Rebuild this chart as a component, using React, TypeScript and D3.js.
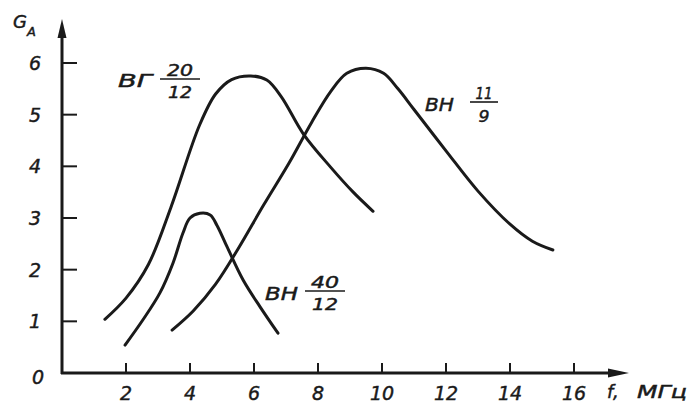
import React from "react";
import * as d3 from "d3";

const xTicks = [2, 4, 6, 8, 10, 12, 14, 16];
const yTicks = [1, 2, 3, 4, 5, 6];

// ВГ 20/12
const vg20F = [1.34, 2.0, 2.7, 3.4, 4.3, 4.8, 5.3, 5.9, 6.4, 6.85, 7.55, 8.4, 9.1, 9.72];
const vg20G = [1.04, 1.45, 2.1, 3.2, 4.8, 5.4, 5.68, 5.75, 5.67, 5.35, 4.62, 3.98, 3.5, 3.13];

// ВН 40/12
const vn40F = [1.97, 2.53, 3.06, 3.47, 3.78, 4.0, 4.31, 4.63, 4.84, 5.16, 5.66, 6.19, 6.75];
const vn40G = [0.54, 1.03, 1.55, 2.13, 2.71, 3.0, 3.09, 3.06, 2.86, 2.44, 1.8, 1.28, 0.77];

// ВН 11/9
const vn11F = [3.44, 4.1, 4.8, 5.5, 6.3, 7.1, 7.8, 8.4, 8.9, 9.5, 10.05, 10.5, 11.0, 12.0, 13.0, 14.0, 14.7, 15.34];
const vn11G = [0.83, 1.2, 1.72, 2.4, 3.25, 4.07, 4.85, 5.45, 5.8, 5.9, 5.8, 5.5, 5.1, 4.3, 3.52, 2.88, 2.55, 2.38];

const seriesList = [
  { name: "vg20", f: vg20F, g: vg20G },
  { name: "vn40", f: vn40F, g: vn40G },
  { name: "vn11", f: vn11F, g: vn11G },
];

const W = 688;
const H = 408;
const FONT = "'DejaVu Sans', 'Liberation Sans', sans-serif";
const INK = "#1a1a1a";

export default function App() {
  const x = d3.scaleLinear().domain([0, 16]).range([62, 574]);
  const y = d3.scaleLinear().domain([0, 6]).range([373, 63]);
  const line = d3
    .line<[number, number]>()
    .x((d) => x(d[0]))
    .y((d) => y(d[1]))
    .curve(d3.curveCatmullRom.alpha(0.5));

  const x0 = x(0);
  const y0 = y(0);
  const txt = {
    fontFamily: FONT,
    fontStyle: "italic" as const,
    fill: INK,
    stroke: INK,
    strokeWidth: 0.45,
  };

  const frac = (x1: number, x2: number, lineY: number, num: string, numW: number, den: string, denW: number, fs = 15) => {
    const cx = (x1 + x2) / 2;
    return (
      <g>
        <text x={cx - numW / 2} y={lineY - 3} fontSize={fs} textLength={numW} lengthAdjust="spacingAndGlyphs" {...txt}>{num}</text>
        <line x1={x1} x2={x2} y1={lineY} y2={lineY} stroke={INK} strokeWidth={1.6} />
        <text x={cx - denW / 2} y={lineY + 4 + fs} fontSize={fs} textLength={denW} lengthAdjust="spacingAndGlyphs" {...txt}>{den}</text>
      </g>
    );
  };

  return (
    <svg width={W} height={H} style={{ position: "absolute", left: 0, top: 0, background: "#fff" }}>
      <rect width={W} height={H} fill="#fff" />
      {/* axes */}
      <line x1={x0} x2={x0} y1={y0 + 1} y2={30} stroke={INK} strokeWidth={3} />
      <path d={`M${x0},19 L${x0 - 4.5},38 L${x0 + 4.5},38 Z`} fill={INK} />
      <line x1={x0 - 1} x2={612} y1={y0} y2={y0} stroke={INK} strokeWidth={3} />
      <path d={`M629,${y0} L608,${y0 - 4.5} L608,${y0 + 4.5} Z`} fill={INK} />
      {yTicks.map((t) => (
        <g key={"y" + t}>
          <line x1={x0} x2={x0 + 15} y1={y(t)} y2={y(t)} stroke={INK} strokeWidth={2} />
          <text x={35} y={y(t) + 7} textAnchor="middle" fontSize={19} {...txt}>{t}</text>
        </g>
      ))}
      <text x={38} y={y0 + 11} textAnchor="middle" fontSize={19} {...txt}>0</text>
      {xTicks.map((t) => (
        <g key={"x" + t}>
          <line x1={x(t)} x2={x(t)} y1={y0} y2={y0 - 10} stroke={INK} strokeWidth={2} />
          <text x={x(t)} y={400} textAnchor="middle" fontSize={19} {...txt}>{t}</text>
        </g>
      ))}
      {/* axis titles */}
      <text x={13} y={28} fontSize={18} {...txt}>G</text>
      <text x={27} y={36} fontSize={13} {...txt}>A</text>
      <text x={607} y={398} fontSize={18} {...txt}>f,</text>
      <text x={637} y={398} fontSize={17} textLength={50} lengthAdjust="spacingAndGlyphs" {...txt}>МГц</text>

      {/* curves */}
      {seriesList.map((s) => (
        <path
          key={s.name}
          d={line(s.f.map((f, i) => [f, s.g[i]] as [number, number])) || ""}
          fill="none"
          stroke={INK}
          strokeWidth={3}
          strokeLinecap="round"
        />
      ))}

      {/* labels */}
      <text x={118} y={87} fontSize={17} textLength={34} lengthAdjust="spacingAndGlyphs" {...txt}>ВГ</text>
      {frac(160, 200, 79, "20", 26, "12", 24)}
      <text x={425} y={111} fontSize={17} textLength={29} lengthAdjust="spacingAndGlyphs" {...txt}>ВН</text>
      {frac(470, 498, 102, "11", 17, "9", 11, 16)}
      <text x={265} y={300} fontSize={17} textLength={33} lengthAdjust="spacingAndGlyphs" {...txt}>ВН</text>
      {frac(305, 345, 291, "40", 28, "12", 26)}
    </svg>
  );
}
